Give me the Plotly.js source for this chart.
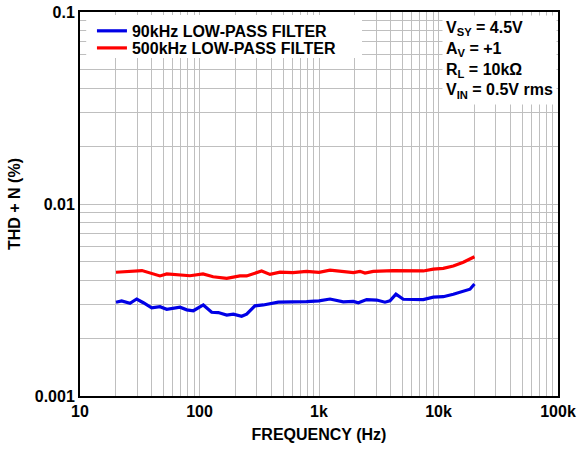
<!DOCTYPE html>
<html>
<head>
<meta charset="utf-8">
<script src="https://cdn.plot.ly/plotly-3.0.1.min.js"></script>
<style>html,body{margin:0;padding:0;background:#fff;}#chart{width:578px;height:452px;}</style>
</head>
<body>
<div id="chart"></div>
<script>
// 90kHz low-pass filter series
const freq90 = [20, 22.3, 26.2, 29.8, 33.9, 39.8, 46.7, 53.2, 68.7, 78.2, 88.8, 107.6, 126.4, 143.6, 169, 192, 225, 248, 291, 342, 456, 609, 788, 1000, 1236, 1596, 1938, 2134, 2506, 3040, 3565, 3926, 4405, 5075, 7464, 9045, 10960, 13300, 16130, 18350, 20000];
const thd90 = [0.00308, 0.00313, 0.00304, 0.00320, 0.00306, 0.00288, 0.00292, 0.00283, 0.00290, 0.00281, 0.00278, 0.00298, 0.00273, 0.00272, 0.00264, 0.00267, 0.00260, 0.00267, 0.00295, 0.00298, 0.00308, 0.00308, 0.00310, 0.00313, 0.00320, 0.00309, 0.00311, 0.00306, 0.00318, 0.00316, 0.00308, 0.00313, 0.00339, 0.00319, 0.00318, 0.00327, 0.00329, 0.00339, 0.00352, 0.00360, 0.00383];
// 500kHz low-pass filter series
const freq500 = [20, 33, 46.7, 53.2, 83.2, 107, 130, 169, 218, 248, 331, 389, 472, 606, 788, 1000, 1236, 1938, 2203, 2426, 2846, 4188, 7464, 9045, 10960, 13300, 16130, 20000];
const thd500 = [0.00441, 0.00450, 0.00422, 0.00432, 0.00423, 0.00432, 0.00418, 0.00410, 0.00422, 0.00422, 0.00448, 0.00430, 0.00442, 0.00439, 0.00446, 0.00441, 0.00452, 0.00439, 0.00446, 0.00437, 0.00446, 0.00450, 0.00448, 0.00458, 0.00462, 0.00475, 0.00497, 0.00531];

const xDecades = [10, 100, 1000, 10000, 100000];
const xDecadeLabels = ["10", "100", "1k", "10k", "100k"];
const yDecades = [0.001, 0.01, 0.1];
const yDecadeLabels = ["0.001", "0.01", "0.1"];
const seriesNames = ["90kHz LOW-PASS FILTER", "500kHz LOW-PASS FILTER"];
const conditions = ["V<sub>SY</sub> = 4.5V", "A<sub>V</sub> = +1", "R<sub>L</sub> = 10kΩ", "V<sub>IN</sub> = 0.5V rms"];
const xTitle = "FREQUENCY (Hz)";
const yTitle = "THD + N (%)";

const b = s => "<b>" + s + "</b>";

// minor grid positions (2..9 within each decade)
function minorVals(decades) {
  const v = [];
  for (let i = 0; i < decades.length - 1; i++)
    for (let m = 2; m <= 9; m++) v.push(decades[i] * m);
  return v;
}

const FONT = "Arial, Liberation Sans, sans-serif";
const GRID = "#bfbfbf";

const traces = [
  {x: freq90, y: thd90, name: b(seriesNames[0]), mode: "lines", line: {color: "#0000e6", width: 3.2}, legend: "legend"},
  {x: freq500, y: thd500, name: b(seriesNames[1]), mode: "lines", line: {color: "#ff0000", width: 3.2}, legend: "legend2"}
];

const legendStyle = {xanchor: "left", yanchor: "top", bgcolor: "rgba(0,0,0,0)",
                     font: {family: FONT, size: 16, color: "#000"}, borderwidth: 0};

const layout = {
  width: 578, height: 452,
  margin: {l: 80, r: 20, t: 12, b: 56},
  paper_bgcolor: "#fff", plot_bgcolor: "#fff",
  font: {family: FONT, size: 16, color: "#000"},
  showlegend: true,
  legend: Object.assign({x: 0.025, y: 0.995}, legendStyle),
  legend2: Object.assign({x: 0.025, y: 0.9505}, legendStyle),
  shapes: [{type: "rect", xref: "paper", yref: "paper", x0: 0.013, x1: 0.59, y0: 0.880, y1: 0.992,
            fillcolor: "#fff", line: {width: 0}, layer: "above"}],
  xaxis: {type: "log", range: [1, 5], tickmode: "array",
          tickvals: xDecades, ticktext: xDecadeLabels.map(b), tickangle: 0,
          showgrid: true, gridcolor: GRID, gridwidth: 1,
          minor: {tickmode: "array", tickvals: minorVals(xDecades), showgrid: true, gridcolor: GRID, gridwidth: 1, ticks: ""},
          showline: true, linecolor: "#000", linewidth: 2, mirror: true,
          ticks: "", zeroline: false,
          tickfont: {family: FONT, size: 16, color: "#000"},
          title: {text: b(xTitle), font: {family: FONT, size: 16, color: "#000"}, standoff: 10}},
  yaxis: {type: "log", range: [-3, -1], tickmode: "array",
          tickvals: yDecades, ticktext: yDecadeLabels.map(b),
          showgrid: true, gridcolor: GRID, gridwidth: 1,
          minor: {tickmode: "array", tickvals: minorVals(yDecades), showgrid: true, gridcolor: GRID, gridwidth: 1, ticks: ""},
          showline: true, linecolor: "#000", linewidth: 2, mirror: true,
          ticks: "", zeroline: false,
          tickfont: {family: FONT, size: 16, color: "#000"},
          title: {text: b(yTitle), font: {family: FONT, size: 16, color: "#000"}, standoff: 10}},
  annotations: [{
    xref: "paper", yref: "paper", x: 0.997, y: 0.992, xanchor: "right", yanchor: "top",
    text: b(conditions.join("<br>")), showarrow: false, align: "left", bgcolor: "#fff",
    font: {family: FONT, size: 16, color: "#000"}, borderpad: 3
  }]
};

Plotly.newPlot("chart", traces, layout, {displayModeBar: false, staticPlot: true});
</script>
</body>
</html>
